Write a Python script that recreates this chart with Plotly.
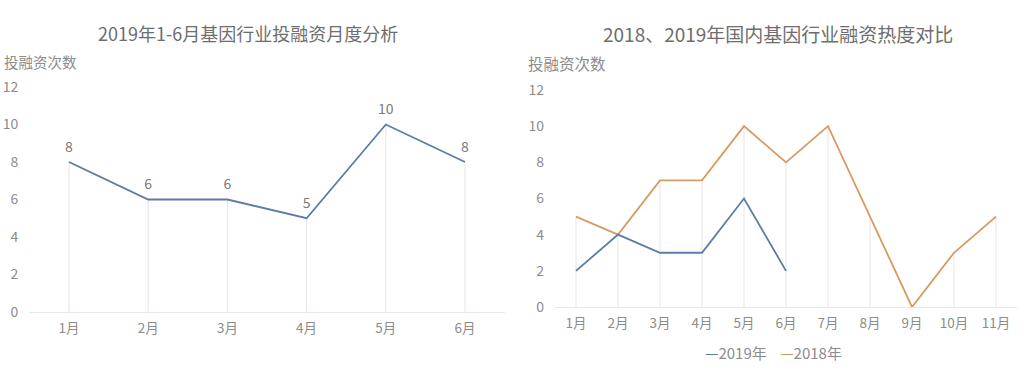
import plotly.graph_objects as go

months_2019_h1 = ["1月", "2月", "3月", "4月", "5月", "6月"]
deals_2019_h1 = [8, 6, 6, 5, 10, 8]

months_all = ["1月", "2月", "3月", "4月", "5月", "6月", "7月", "8月", "9月", "10月", "11月"]
deals_2019 = [2, 4, 3, 3, 6, 2]
deals_2018 = [5, 4, 7, 7, 10, 8, 10, 5, 0, 3, 5]

y_ticks = [0, 2, 4, 6, 8, 10, 12]

W, H = 1024, 378
BLUE = "#5b7ca3"
ORANGE = "#d69b5f"
GREY = "#8c8c8c"
DROP = "rgba(228,224,230,0.9)"
FONT = "Noto Sans CJK SC"

def px(x):
    return x / W

def py(y):
    return (H - y) / H

def drops(vals):
    return dict(type="data", symmetric=False, array=[0] * len(vals), arrayminus=vals,
                color=DROP, thickness=1, width=0)

fig = go.Figure()

fig.add_trace(go.Scatter(
    x=months_2019_h1, y=deals_2019_h1, mode="lines+markers+text",
    marker=dict(size=9, opacity=0),
    text=[str(v) for v in deals_2019_h1], textposition="top center",
    textfont=dict(color="#7a7a7a", size=14, family=FONT),
    line=dict(color=BLUE, width=1.8), error_y=drops(deals_2019_h1),
    xaxis="x", yaxis="y", showlegend=False, cliponaxis=False))

fig.add_trace(go.Scatter(
    x=months_all, y=deals_2018, mode="lines", name="2018年",
    line=dict(color=ORANGE, width=1.8), error_y=drops(deals_2018),
    xaxis="x2", yaxis="y2", showlegend=False))
fig.add_trace(go.Scatter(
    x=months_all[:len(deals_2019)], y=deals_2019, mode="lines", name="2019年",
    line=dict(color=BLUE, width=1.8),
    xaxis="x2", yaxis="y2", showlegend=False))

axis_common = dict(showgrid=False, zeroline=False, fixedrange=True)
xtick_font = dict(color=GREY, size=13.5, family=FONT)
ytick_font = dict(color=GREY, size=14, family=FONT)

fig.update_layout(
    width=W, height=H,
    margin=dict(l=0, r=0, t=0, b=0, autoexpand=False),
    paper_bgcolor="white", plot_bgcolor="white",
    font=dict(family=FONT, color=GREY),
    showlegend=False,
    hovermode=False,
    xaxis=dict(domain=[px(29.4), px(504.6)], range=[-0.5, 5.5], anchor="y",
               showline=True, linecolor="#eee6e6", linewidth=1, ticks="",
               tickfont=xtick_font, ticklabelstandoff=4, **axis_common),
    yaxis=dict(domain=[py(312), py(87)], range=[0, 12], tickvals=y_ticks, anchor="x",
               showline=False, ticklabelstandoff=10, tickfont=ytick_font, **axis_common),
    xaxis2=dict(domain=[px(555), px(1017)], range=[-0.5, 10.5], anchor="y2",
                showline=True, linecolor="#eee6e6", linewidth=1, ticks="",
                tickfont=xtick_font, ticklabelstandoff=4, **axis_common),
    yaxis2=dict(domain=[py(307), py(90)], range=[0, 12], tickvals=y_ticks, anchor="x2",
                showline=False, ticklabelstandoff=10, tickfont=ytick_font, **axis_common),
    annotations=[
        dict(text="2019年1-6月基因行业投融资月度分析", x=px(248), y=py(33),
             xanchor="center", yanchor="middle", xref="paper", yref="paper",
             showarrow=False, font=dict(size=18, color="#6e6e6e", family=FONT)),
        dict(text="2018、2019年国内基因行业融资热度对比", x=px(778), y=py(33),
             xanchor="center", yanchor="middle", xref="paper", yref="paper",
             showarrow=False, font=dict(size=19, color="#6e6e6e", family=FONT)),
        dict(text="投融资次数", x=px(2), y=py(61), xanchor="left", yanchor="middle",
             xref="paper", yref="paper",
             showarrow=False, font=dict(size=14.5, color=GREY, family=FONT)),
        dict(text="投融资次数", x=px(526), y=py(63), xanchor="left", yanchor="middle",
             xref="paper", yref="paper",
             showarrow=False, font=dict(size=15.5, color=GREY, family=FONT)),
        dict(text=(f"<span style='color:{BLUE}'>—</span>2019年    "
                   f"<span style='color:{ORANGE}'>—</span>2018年"),
             x=px(773), y=py(352), xanchor="center", yanchor="middle",
             xref="paper", yref="paper", showarrow=False,
             font=dict(size=15, color=GREY, family=FONT)),
    ],
)

fig.write_html("out.html", config={"displayModeBar": False},
               post_script="document.body.style.margin='0';")
